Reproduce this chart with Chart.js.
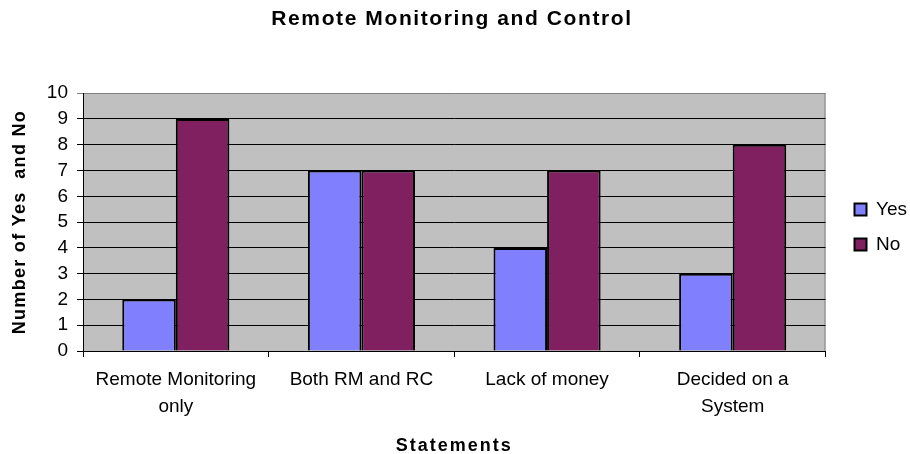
<!DOCTYPE html>
<html>
<head>
<meta charset="utf-8">
<script src="https://cdn.jsdelivr.net/npm/chart.js@4.4.1/dist/chart.umd.min.js"></script>
<style>
  html, body { margin:0; padding:0; background:#fff; }
  #wrap { width:910px; height:454px; position:relative; }
</style>
</head>
<body>
<div id="wrap"><canvas id="chart"></canvas></div>
<script>
'use strict';

// ---- Données ----
const categories = [['Remote Monitoring', 'only'], 'Both RM and RC', 'Lack of money', ['Decided on a', 'System']];
const yesValues  = [2, 7, 4, 3];
const noValues   = [9, 7, 7, 8];
const yTicks     = [0, 1, 2, 3, 4, 5, 6, 7, 8, 9, 10];

const FONT = "'Liberation Sans', Arial, sans-serif";

// fond gris de la zone de tracé + bord droit gris
const plotBg = {
  id: 'plotBg',
  beforeDraw(chart) {
    const { ctx, chartArea: a } = chart;
    ctx.save();
    ctx.fillStyle = '#c0c0c0';
    ctx.fillRect(a.left, a.top, a.right - a.left, a.bottom - a.top);
    ctx.strokeStyle = '#808080';
    ctx.lineWidth = 1;
    ctx.beginPath();
    ctx.moveTo(a.right - 0.5, a.top);
    ctx.lineTo(a.right - 0.5, a.bottom);
    ctx.stroke();
    ctx.restore();
  }
};

// décale la légende vers la droite (sans la couper au bord)
const legendShift = {
  id: 'legendShift',
  afterLayout(chart) {
    if (!chart.legend) return;
    chart.legend.left += 13;
    chart.legend.right = chart.width;
  }
};

// espacement des lettres pour les titres (rendu type Excel)
function spaced(obj, fn, sp) {
  const orig = obj[fn];
  obj[fn] = function (...args) {
    const c = this.ctx; c.save(); c.letterSpacing = sp;
    orig.apply(this, args); c.restore();
  };
}
const titleSpacing = {
  id: 'titleSpacing',
  beforeDraw(chart) {
    if (chart.$spaced) return;
    chart.$spaced = true;
    spaced(chart.titleBlock, 'draw', '1.6px');
    spaced(chart.scales.x, 'drawTitle', '2px');
    spaced(chart.scales.y, 'drawTitle', '1.3px');
  }
};

new Chart(document.getElementById('chart').getContext('2d'), {
  type: 'bar',
  data: {
    labels: categories,
    datasets: [
      { label:'Yes', data:yesValues, backgroundColor:'#8080ff', borderColor:'#000', borderWidth:2 },
      { label:'No',  data:noValues,  backgroundColor:'#802060', borderColor:'#000', borderWidth:2 }
    ]
  },
  options: {
    responsive: true, maintainAspectRatio: false, animation: false,
    layout: { padding: { top:0, left:0, bottom:0, right:6 } },
    categoryPercentage: 0.577, barPercentage: 1,
    plugins: {
      title: {
        display: true, text: 'Remote Monitoring and Control', color: '#000',
        font: { family: FONT, size: 21, weight: 'bold' },
        padding: { top: 7, bottom: 61 }
      },
      legend: {
        position: 'right',
        labels: { color:'#000', boxWidth:12, boxHeight:12, padding:16, font:{ family:FONT, size:19 } }
      },
      tooltip: { enabled: false }
    },
    scales: {
      x: {
        afterFit: s => { s.height = 103; },
        grid: { drawOnChartArea:false, color:'#000', tickLength:6 },
        border: { color:'#000' },
        ticks: { color:'#000', padding:9, maxRotation:0, autoSkip:false, font:{ family:FONT, size:19, lineHeight:1.42 } },
        title: { display:true, text:'Statements', color:'#000', padding:0,
                 font:{ family:FONT, size:18, weight:'bold', lineHeight:0.9 } }
      },
      y: {
        min: 0, max: 10,
        afterFit: s => { s.width = 83; },
        afterBuildTicks: s => { s.ticks = yTicks.map(v => ({ value: v })); },
        grid: { color: c => c.tick && c.tick.value === 10 ? '#808080' : '#000', tickLength:6 },
        border: { color:'#000' },
        ticks: { color:'#000', padding:9, autoSkip:false, font:{ family:FONT, size:19 } },
        title: { display:true, text:'Number of Yes  and No', color:'#000', padding:{ top:9, bottom:0 },
                 font:{ family:FONT, size:18, weight:'bold' } }
      }
    }
  },
  plugins: [plotBg, legendShift, titleSpacing]
});
</script>
</body>
</html>
